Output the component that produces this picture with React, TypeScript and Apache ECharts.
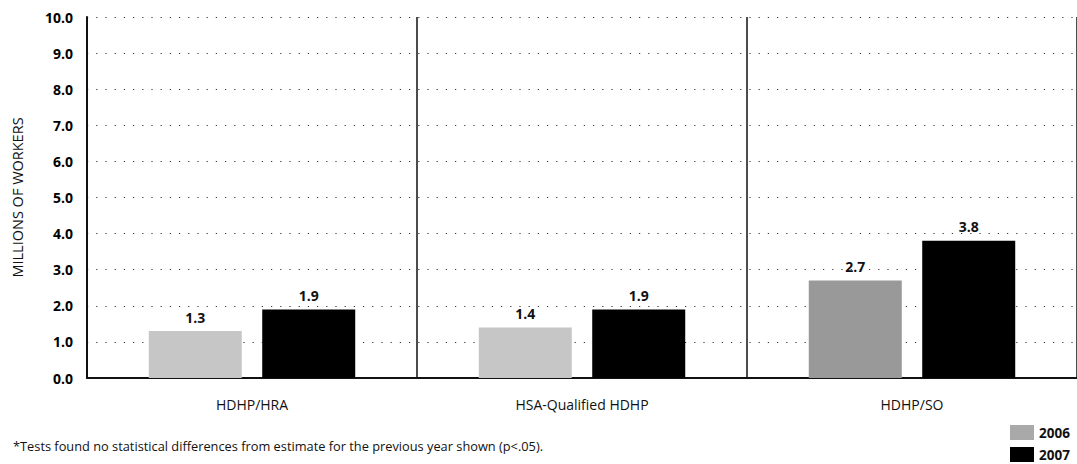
import React, { useEffect, useRef } from "react";
import * as echarts from "echarts";

// Plan types and enrollment (millions of workers) per year
const categories = ["HDHP/HRA", "HSA-Qualified HDHP", "HDHP/SO"];
const workers2006 = [1.3, 1.4, 2.7];
const workers2007 = [1.9, 1.9, 3.8];
const yTicks = [0, 1, 2, 3, 4, 5, 6, 7, 8, 9, 10];
const colors2006 = ["#c6c6c6", "#c6c6c6", "#999999"];
const color2007 = "#000000";
const footnote =
  "*Tests found no statistical differences from estimate for the previous year shown (p<.05).";

const FONT = "'Open Sans', 'Noto Sans', sans-serif";

export default function App() {
  const ref = useRef<HTMLDivElement>(null);

  useEffect(() => {
    if (!ref.current) return;
    const chart = echarts.init(ref.current, undefined, { renderer: "svg" });
    const labelStyle = {
      show: true,
      position: "top" as const,
      distance: 7,
      color: "#111",
      fontFamily: FONT,
      fontSize: 14,
      fontWeight: "bold" as const,
      formatter: (p: any) => Number(p.value).toFixed(1),
    };
    chart.setOption({
      animation: false,
      backgroundColor: "#ffffff",
      textStyle: { fontFamily: FONT },
      grid: { left: 87, right: -1, top: 17, bottom: 86, containLabel: false },
      legend: {
        orient: "vertical",
        left: 1010,
        top: 425,
        padding: 0,
        itemWidth: 24,
        itemHeight: 15,
        itemGap: 7,
        icon: "rect",
        textStyle: { fontFamily: FONT, fontSize: 13.5, fontWeight: "bold", color: "#111" },
        data: [
          { name: "2006", itemStyle: { color: "#a9a9a9" } },
          { name: "2007", itemStyle: { color: color2007 } },
        ],
      },
      xAxis: {
        type: "category",
        data: categories,
        axisLine: { show: true, lineStyle: { color: "#111", width: 2 } },
        axisTick: { show: false },
        axisLabel: { color: "#111", fontFamily: FONT, fontSize: 14, margin: 19 },
        splitLine: { show: true, lineStyle: { color: "#111", width: 1.5, type: "solid" } },
      },
      yAxis: {
        type: "value",
        min: 0,
        max: 10,
        interval: 1,
        name: "MILLIONS OF WORKERS",
        nameLocation: "middle",
        nameGap: 62,
        nameRotate: 90,
        nameTextStyle: { color: "#111", fontFamily: FONT, fontSize: 14.5 },
        axisLine: { show: true, lineStyle: { color: "#111", width: 2 } },
        axisTick: { show: false },
        axisLabel: {
          color: "#000",
          fontFamily: FONT,
          fontSize: 14,
          fontWeight: "bold",
          margin: 14,
          formatter: (v: number) => (yTicks.includes(v) ? v.toFixed(1) : ""),
        },
        splitLine: {
          show: true,
          lineStyle: { color: "#333", width: 1.2, type: [1.2, 8] },
        },
      },
      series: [
        {
          name: "2006",
          type: "bar",
          barWidth: 93,
          barGap: "22%",
          data: workers2006.map((v, i) => ({ value: v, itemStyle: { color: colors2006[i] } })),
          label: labelStyle,
        },
        {
          name: "2007",
          type: "bar",
          barWidth: 93,
          data: workers2007,
          itemStyle: { color: color2007 },
          label: labelStyle,
        },
      ],
      graphic: [
        {
          type: "text",
          left: 13,
          top: 439,
          style: { text: footnote, fill: "#111", font: `12.8px ${FONT}` },
        },
      ],
    });
    return () => chart.dispose();
  }, []);

  return (
    <div
      ref={ref}
      style={{ position: "fixed", left: 0, top: 0, width: 1077, height: 464 }}
    />
  );
}
